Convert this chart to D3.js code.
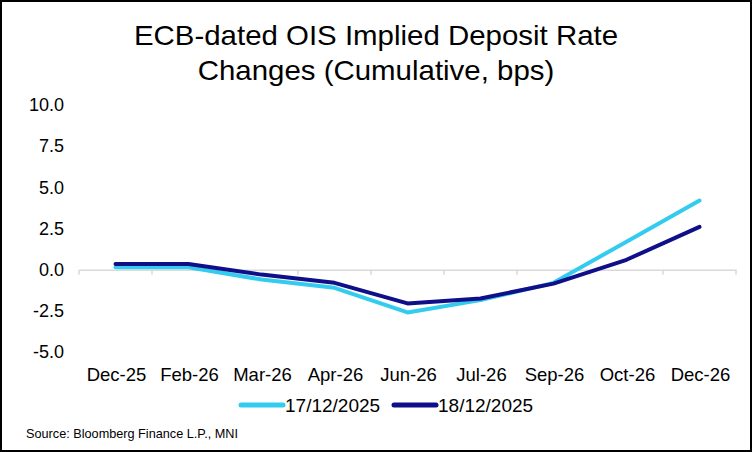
<!DOCTYPE html>
<html>
<head>
<meta charset="utf-8">
<script src="https://cdn.jsdelivr.net/npm/d3@7"></script>
<style>
  body { margin: 0; background: #fff; }
  svg { display: block; font-family: "Liberation Sans", Arial, sans-serif; }
</style>
</head>
<body>
<svg id="chart" width="752" height="452"></svg>
<script>
// Meeting dates on x axis
var months = ["Dec-25", "Feb-26", "Mar-26", "Apr-26", "Jun-26", "Jul-26", "Sep-26", "Oct-26", "Dec-26"];
// Cumulative implied changes, bps
var dec17 = [0.15, 0.15, -0.6, -1.1, -2.6, -1.85, -0.8, 1.7, 4.2];
var dec18 = [0.35, 0.35, -0.3, -0.8, -2.05, -1.75, -0.85, 0.6, 2.6];
var yTicks = [-5, -2.5, 0, 2.5, 5, 7.5, 10];
var seriesNames = ["17/12/2025", "18/12/2025"];
var colors = ["#33CCEE", "#0F0F8A"];

var svg = d3.select("#chart");
var width = 752, height = 452;

// frame
svg.append("rect")
  .attr("x", 1).attr("y", 1)
  .attr("width", width - 2).attr("height", height - 2)
  .attr("fill", "#fff").attr("stroke", "#000").attr("stroke-width", 2);

// title (slightly wide, like the original export)
var title = svg.append("text")
  .attr("text-anchor", "middle")
  .attr("font-size", 27)
  .attr("fill", "#000")
  .attr("transform", "translate(376,0) scale(1.09,1)");
title.append("tspan").attr("x", 0).attr("y", 45).text("ECB-dated OIS Implied Deposit Rate");
title.append("tspan").attr("x", 0).attr("y", 80).text("Changes (Cumulative, bps)");

var x = d3.scaleBand().domain(months).range([79, 736]);
var y = d3.scaleLinear().domain([-5, 10]).range([352, 105]);

// y labels (no axis line)
svg.append("g").selectAll("text")
  .data(yTicks)
  .enter().append("text")
  .attr("x", 64)
  .attr("y", d => y(d))
  .attr("dy", "0.35em")
  .attr("text-anchor", "end")
  .attr("font-size", 18)
  .text(d => d3.format(".1f")(d).replace("\u2212", "-"));

// x axis at zero
var xAxis = svg.append("g")
  .attr("transform", "translate(0," + y(0) + ")")
  .call(d3.axisBottom(x).tickSize(0).tickFormat(""));
xAxis.select(".domain").attr("stroke", "#d9d9d9").attr("stroke-width", 1.5);
xAxis.selectAll(".tick").remove();

// tick marks at band edges
var edges = months.map(m => x(m)).concat([x.range()[1]]);
svg.append("g").selectAll("line")
  .data(edges)
  .enter().append("line")
  .attr("x1", d => d).attr("x2", d => d)
  .attr("y1", y(0)).attr("y2", y(0) + 5)
  .attr("stroke", "#d9d9d9").attr("stroke-width", 1.5);

// category labels at bottom
svg.append("g").selectAll("text")
  .data(months)
  .enter().append("text")
  .attr("x", d => x(d) + x.bandwidth() / 2 + 1)
  .attr("y", 381)
  .attr("text-anchor", "middle")
  .attr("font-size", 18.5)
  .text(d => d);

// lines
var line = d3.line()
  .x((d, i) => x(months[i]) + x.bandwidth() / 2)
  .y(d => y(d));

[dec17, dec18].forEach(function(vals, i) {
  svg.append("path")
    .datum(vals)
    .attr("d", line)
    .attr("fill", "none")
    .attr("stroke", colors[i])
    .attr("stroke-width", 4)
    .attr("stroke-linejoin", "round")
    .attr("stroke-linecap", "round");
});

// legend
var legendX = [241, 394];
seriesNames.forEach(function(name, i) {
  var g = svg.append("g").attr("transform", "translate(" + legendX[i] + ",405)");
  g.append("line")
    .attr("x1", 0).attr("x2", 42)
    .attr("stroke", colors[i]).attr("stroke-width", 5)
    .attr("stroke-linecap", "round");
  g.append("text")
    .attr("x", 44).attr("dy", "0.36em")
    .attr("font-size", 19)
    .text(name);
});

// source
svg.append("text")
  .attr("x", 26).attr("y", 438)
  .attr("font-size", 13)
  .attr("textLength", 212)
  .attr("lengthAdjust", "spacingAndGlyphs")
  .text("Source: Bloomberg Finance L.P., MNI");
</script>
</body>
</html>
